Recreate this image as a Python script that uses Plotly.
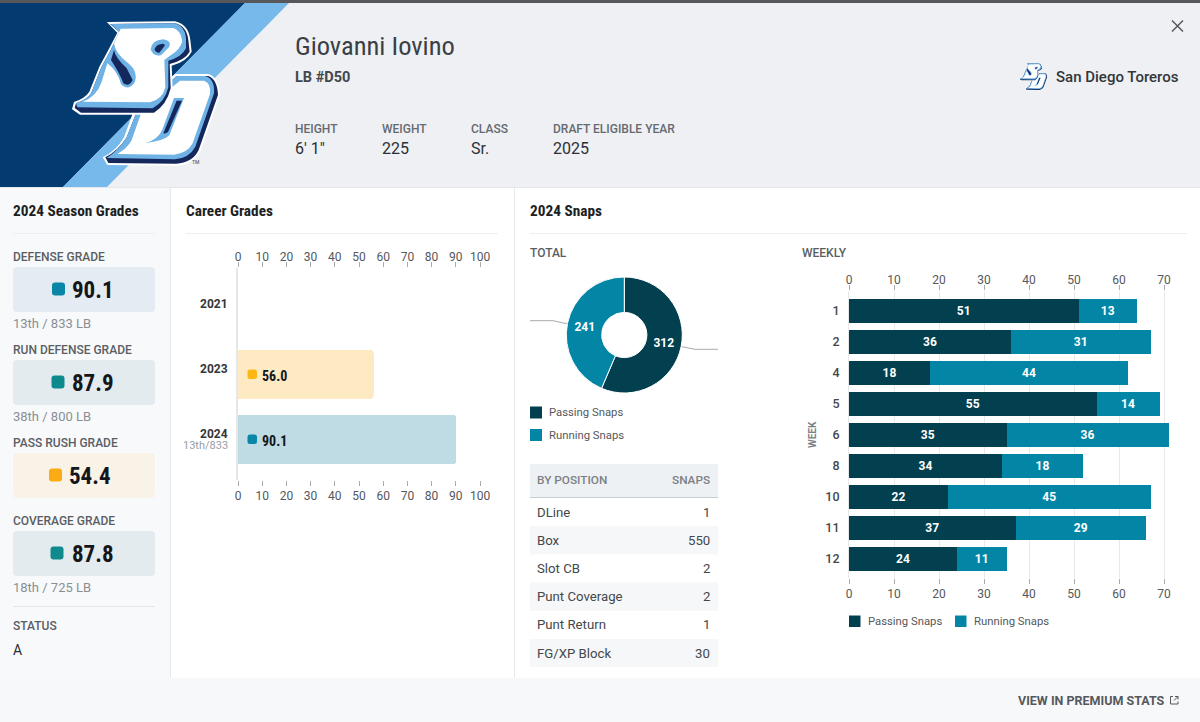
import re
import plotly.graph_objects as go

# ---- data ----
career_years = ["2021", "2023", "2024"]
career_values = [None, 56.0, 90.1]
career_colors = ["#bfdbe3", "#fdeac2", "#bfdbe3"]
career_chip_colors = ["#0a86a6", "#fbb814", "#0a86a6"]
career_ticks = [0, 10, 20, 30, 40, 50, 60, 70, 80, 90, 100]

snap_names = ["Passing Snaps", "Running Snaps"]
snap_totals = [312, 241]

weeks = ["1", "2", "4", "5", "6", "8", "10", "11", "12"]
passing = [51, 36, 18, 55, 35, 34, 22, 37, 24]
running = [13, 31, 44, 14, 36, 18, 45, 29, 11]
weekly_ticks = [0, 10, 20, 30, 40, 50, 60, 70]

positions = ["DLine", "Box", "Slot CB", "Punt Coverage", "Punt Return", "FG/XP Block"]
position_snaps = [1, 550, 2, 2, 1, 30]

grade_names = ["DEFENSE GRADE", "RUN DEFENSE GRADE", "PASS RUSH GRADE", "COVERAGE GRADE"]
grade_values = ["90.1", "87.9", "54.4", "87.8"]
grade_ranks = ["13th / 833 LB", "38th / 800 LB", "", "18th / 725 LB"]

info_labels = ["HEIGHT", "WEIGHT", "CLASS", "DRAFT ELIGIBLE YEAR"]
info_values = ["6' 1\"", "225", "Sr.", "2025"]

# ---- styles ----
W, H = 1200, 722
DARK, TEAL = "#02404f", "#0386a6"
COND = "'Liberation Sans Narrow','Roboto Condensed','DejaVu Sans Condensed',Roboto"
ROB = "Roboto"

shapes, notes = [], []


def rect(x0, y0, x1, y1, fill, layer="below"):
    shapes.append(dict(type="rect", xref="x", yref="y", x0=x0, y0=y0, x1=x1, y1=y1,
                       fillcolor=fill, line_width=0, layer=layer))


def rrect(x0, y0, x1, y1, r, fill, layer="below"):
    p = (f"M{x0+r},{y0} L{x1-r},{y0} Q{x1},{y0} {x1},{y0+r} L{x1},{y1-r} Q{x1},{y1} {x1-r},{y1} "
         f"L{x0+r},{y1} Q{x0},{y1} {x0},{y1-r} L{x0},{y0+r} Q{x0},{y0} {x0+r},{y0} Z")
    shapes.append(dict(type="path", xref="x", yref="y", path=p, fillcolor=fill, line_width=0, layer=layer))


def path(p, fill=None, lc=None, lw=0, layer="below"):
    shapes.append(dict(type="path", xref="x", yref="y", path=p, fillcolor=fill or "rgba(0,0,0,0)",
                       line=dict(color=lc or "rgba(0,0,0,0)", width=lw), layer=layer))


def txt(x, y, s, size, color, fam=ROB, weight=400, anchor="left", angle=0):
    nudge = {"left": -1, "right": 1, "center": 0}[anchor]
    notes.append(dict(xref="x", yref="y", x=x + nudge, y=y, text=s, showarrow=False, xanchor=anchor,
                      yanchor="middle", borderpad=0, textangle=angle,
                      font=dict(family=fam, size=size, color=color, weight=weight)))


# ---- backgrounds ----
rect(0, 0, W, 3, "#56585c")
rect(0, 3, W, 187, "#eef0f4")
rect(0, 187, 170, 678, "#f8f9fb")
rect(170, 187, W, 678, "#ffffff")
rect(0, 678, W, H, "#f7f8fa")
rect(0, 187, W, 188, "#e6e8ec")
rect(170, 187, 171, 678, "#e6e8ec")
rect(514, 187, 515, 678, "#e6e8ec")
path("M0,3 L245,3 L63,187 L0,187 Z", "#033a70")
path("M245,3 L289,3 L107,187 L63,187 Z", "#76b9ea")


# ---- logo (authored in 3x crop coordinates) ----
def xf(d, s=1/3, ox=0, oy=0):
    it = iter(range(10**6))

    def rep(m):
        i = next(it)
        v = float(m.group()) * s
        return f"{v + (ox if i % 2 == 0 else oy):.2f}"
    return re.sub(r"[\d.]+", rep, d)


LOGO = [
    # D
    ("M400,335 L525,222 L625,222 Q658,232 660,285 L602,452 Q582,492 530,497 L322,495 L308,472 Q350,452 372,412 Z", "#ffffff"),
    ("M410,335 L530,228 L625,228 Q652,238 654,285 L596,450 Q578,488 528,491 L325,489 L316,472 Q355,452 380,412 Z", "#14285c"),
    ("M410,335 L530,228 L615,228 Q645,236 642,280 L586,440 Q568,474 525,478 L320,474 Q355,452 380,412 Z", "#6fb2e6"),
    ("M425,335 L540,242 L612,242 Q634,250 630,282 L578,430 Q562,460 522,464 L352,462 Q382,445 395,420 Z", "#ffffff"),
    ("M522,294 L552,294 L508,406 Q490,424 436,429 Q476,418 488,386 Z", "#6fb2e6"),
    ("M530,302 L546,302 L504,396 Q498,402 490,400 Z", "#14285c"),
    # S
    ("M320,66 L525,64 Q565,72 571,120 L575,155 Q560,185 515,197 L518,265 Q505,320 465,344 L240,344 L216,328 L222,306 Q255,295 268,275 L298,200 L325,150 L352,98 Z", "#ffffff"),
    ("M330,72 L525,70 Q560,78 565,120 L569,155 Q555,180 509,192 L512,265 Q500,315 462,338 L243,338 L224,324 L228,310 Q262,298 274,278 L304,202 L331,152 L358,96 Z", "#14285c"),
    ("M332,72 L525,70 Q555,78 558,115 L558,145 Q545,172 505,182 L505,262 Q495,305 458,325 L232,322 L228,310 Q262,298 274,278 L304,202 L331,152 L358,96 Z", "#6fb2e6"),
    ("M362,86 L520,84 Q543,92 547,124 Q540,150 512,166 L493,180 L496,262 Q488,298 450,307 L248,305 Q290,290 305,245 L322,190 Q355,215 362,250 Q385,275 405,245 Q415,215 385,190 Q345,160 342,130 Z", "#ffffff"),
    ("M335,140 Q338,170 375,195 Q412,222 402,250 Q385,272 365,255 Q358,225 328,190 Z", "#6fb2e6"),
    ("M342,150 Q345,172 380,205 L398,240 Q388,262 370,250 Q362,225 333,180 Z", "#14285c"),
    ("M452,148 Q455,120 490,118 Q515,122 508,140 L484,165 Q460,172 452,148 Z", "#6fb2e6"),
    ("M464,148 Q468,132 490,131 L495,136 L478,158 Q466,158 464,148 Z", "#14285c"),
]
for d, c in LOGO:
    path(xf(d), c)
for d, c in LOGO:
    path(xf(d, 0.063, 1006, 59), c)
txt(192, 162, "TM", 5, "#666666", weight=500)

# ---- header text ----
txt(295, 45, "Giovanni Iovino", 26.5, "#3a3f44", fam=COND)
txt(295, 77, "LB #D50", 14.5, "#43474c", weight=700)
for x, lab, val in zip([295, 382, 471, 553], info_labels, info_values):
    txt(x, 128.5, lab, 12, "#666a70", weight=500)
    txt(x, 148, val, 16, "#2c2f33")
txt(1056, 77, "San Diego Toreros", 15, "#33363a", weight=500)
path("M1172,20.5 L1183,31.5 M1183,20.5 L1172,31.5", None, "#55585c", 1.5)

# ---- left panel ----
txt(13, 211, "2024 Season Grades", 15.3, "#1c1e21", fam=COND, weight=700)
rect(13, 233, 155, 234, "#eceef1")
g_top = [267, 360, 453, 531]
g_bg = ["#e4ebf3", "#e3ebee", "#f8f2e7", "#e3ebee"]
g_chip = ["#0a86a6", "#0f8a8c", "#fbab14", "#0f8a8c"]
g_cx = [58.5, 58, 55.5, 57]
g_tx = [72, 71.5, 69, 71.5]
for t, bg, ch, cx, tx, n, v, r in zip(g_top, g_bg, g_chip, g_cx, g_tx, grade_names, grade_values, grade_ranks):
    txt(13, t - 10, n, 12, "#5a5e63", weight=500)
    rrect(13, t, 155, t + 45, 4, bg)
    rrect(cx - 6.5, t + 15.5, cx + 6.5, t + 28.5, 3, ch)
    txt(tx, t + 23, v, 23, "#14161a", fam=COND, weight=700)
    if r:
        txt(13, t + 56, r, 13, "#8b8f94")
rect(13, 606, 155, 607, "#e4e6e9")
txt(13, 626, "STATUS", 12, "#5a5e63", weight=500)
txt(13, 650, "A", 14, "#2c2f33")

# ---- career panel text ----
txt(186, 211, "Career Grades", 15.3, "#1c1e21", fam=COND, weight=700)
rect(186, 233, 498, 234, "#eceef1")
for yr, yc in zip(career_years, [304, 369, 434]):
    txt(228, yc, yr, 12, "#33363a", weight=700, anchor="right")
txt(228, 445, "13th/833", 11, "#9a9ea3", anchor="right")
for v, chip, yc in zip(career_values, career_chip_colors, [309.5, 374.5, 439.5]):
    if v is not None:
        rrect(247.5, yc - 5, 257, yc + 4.5, 2.5, chip, layer="above")
        txt(262, yc + 1, f"{v:.1f}", 14, "#14161a", fam=COND, weight=700)

# ---- snaps panel text ----
txt(530, 211, "2024 Snaps", 15.3, "#1c1e21", fam=COND, weight=700)
rect(530, 233, 1187, 234, "#eceef1")
txt(530, 253, "TOTAL", 12, "#5a5e63", weight=500)
txt(802, 253, "WEEKLY", 12, "#5a5e63", weight=500)
path("M530,320.7 L553,320.7 L568,324", None, "#a8abae", 1)
path("M682,346.7 L695,349.3 L718,349.3", None, "#a8abae", 1)
for n, c, yc in zip(snap_names, [DARK, TEAL], [412.5, 435]):
    rect(530, yc - 6, 542, yc + 6, c)
    txt(549, yc, n, 11.3, "#55585c")

# table
rect(530, 464, 718, 497, "#eef1f4")
rect(530, 497, 718, 498, "#c9d0d4")
txt(537, 480, "BY POSITION", 11.8, "#7c8085", weight=500)
txt(710, 480, "SNAPS", 11.8, "#7c8085", weight=500, anchor="right")
for i, (p, s) in enumerate(zip(positions, position_snaps)):
    yc = 512 + i * 28.2
    if i % 2 == 1:
        rect(530, yc - 14.1, 718, yc + 14.1, "#f6f7f9")
    txt(537, yc, p, 13.2, "#44474b")
    txt(710, yc, str(s), 13.2, "#44474b", anchor="right")

# weekly legend, footer
for n, c, x in zip(snap_names, [DARK, TEAL], [849, 955]):
    rect(x, 615.5, x + 11.5, 627, c)
    txt(x + 19, 621, n, 11.3, "#55585c")
txt(812, 435, "WEEK", 10, "#7c8085", weight=700, anchor="center", angle=-90)
txt(1165, 700, "VIEW IN PREMIUM STATS", 12.5, "#55585c", weight=700, anchor="right")
path("M1173,696.5 L1170.5,696.5 L1170.5,704 L1178,704 L1178,701.5 M1175,696.5 L1178,696.5 L1178,699.5 M1178,696.5 L1174,700.5",
     None, "#55585c", 1)


# ---- figure ----
def dom(top, bottom):
    return [1 - bottom / H, 1 - top / H]


tickfont = dict(family=ROB, size=12, color="#55585c")
fig = go.Figure()
fig.add_trace(go.Scatter(x=[0], y=[0], mode="none", hoverinfo="skip", showlegend=False))

# career
fig.add_trace(go.Bar(y=career_years, x=career_values, orientation="h", width=0.754, xaxis="x2", yaxis="y2",
                     marker=dict(color=career_colors, cornerradius=3, line_width=0), showlegend=False))
fig.add_trace(go.Scatter(x=[0], y=[career_years[0]], xaxis="x3", yaxis="y2", mode="none",
                         hoverinfo="skip", showlegend=False))

# donut
fig.add_trace(go.Pie(values=snap_totals, labels=snap_names, hole=0.39, sort=False, direction="clockwise", rotation=0,
                     domain=dict(x=[566.3 / W, 682.3 / W], y=dom(277, 393)), showlegend=False,
                     marker=dict(colors=[DARK, TEAL], line=dict(color="#ffffff", width=1)),
                     textinfo="value", textposition="inside", insidetextorientation="horizontal",
                     textfont=dict(family=ROB, size=12, color="#ffffff", weight=700)))

# weekly
for name, vals, color in zip(snap_names, [passing, running], [DARK, TEAL]):
    fig.add_trace(go.Bar(y=weeks, x=vals, name=name, orientation="h", width=24 / 31, xaxis="x4", yaxis="y4",
                         marker=dict(color=color, line_width=0), text=vals, textposition="inside",
                         insidetextanchor="middle", textangle=0, showlegend=False, cliponaxis=False,
                         textfont=dict(family=ROB, size=12, color="#ffffff", weight=700)))
fig.add_trace(go.Scatter(x=[0], y=[weeks[0]], xaxis="x5", yaxis="y4", mode="none",
                         hoverinfo="skip", showlegend=False))

blank = dict(visible=False, fixedrange=True, automargin=False)
cx = dict(tickmode="array", tickvals=career_ticks, range=[0, 100], ticks="outside", ticklen=5, tickwidth=1,
          tickcolor="#a8abae", tickfont=tickfont, showgrid=False, zeroline=False, showline=False,
          domain=[238 / W, 480 / W], automargin=False)
wx = dict(tickmode="array", tickvals=weekly_ticks, range=[0, 72], ticks="outside", ticklen=5, tickwidth=1,
          tickcolor="#a8abae", tickfont=tickfont, showgrid=True, gridcolor="#e8e9eb", gridwidth=1, zeroline=False,
          showline=False, domain=[849 / W, 1173 / W], automargin=False)

fig.update_layout(
    width=W, height=H, margin=dict(l=0, r=0, t=0, b=0, pad=0, autoexpand=False), paper_bgcolor="#ffffff",
    plot_bgcolor="rgba(0,0,0,0)",
    barmode="stack", shapes=shapes, annotations=notes, hovermode=False, showlegend=False,
    xaxis=dict(domain=[0, 1], range=[0, W], **blank),
    yaxis=dict(domain=[0, 1], range=[H, 0], **blank),
    xaxis2=dict(anchor="y2", side="bottom", **cx),
    xaxis3=dict(anchor="y2", side="top", overlaying="x2", ticklabelstandoff=-4, **cx),
    yaxis2=dict(anchor="x2", domain=dom(268, 480), type="category", categoryorder="array", categoryarray=career_years,
                range=[2.623, -0.638], showticklabels=False, ticks="", showline=True, linecolor="#e6e7e9", linewidth=2,
                showgrid=False, zeroline=False, automargin=False),
    xaxis4=dict(anchor="y4", side="bottom", **wx),
    xaxis5=dict(anchor="y4", side="top", overlaying="x4", ticklabelstandoff=-4, **wx),
    yaxis4=dict(anchor="x4", domain=dom(291, 578), type="category", categoryorder="array", categoryarray=weeks,
                range=[8.613, -0.645], ticks="outside", ticklen=6, tickcolor="rgba(0,0,0,0)", automargin=False,
                tickfont=dict(family=ROB, size=12.5, color="#44474b", weight=500), showline=True, linecolor="#e6e7e9",
                showgrid=False, zeroline=False),
)

fig.write_html("out.html", config=dict(displayModeBar=False),
               post_script="document.body.style.margin='0';document.body.style.overflow='hidden';")
